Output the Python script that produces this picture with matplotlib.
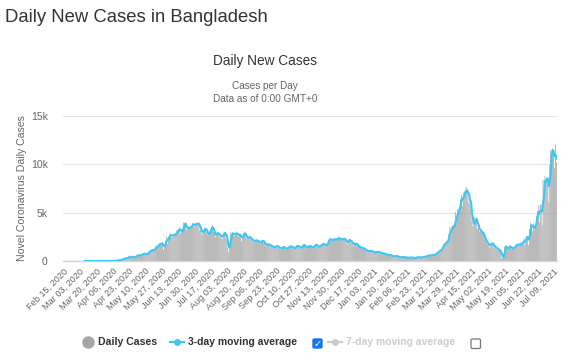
import numpy as np
import pandas as pd
import matplotlib
matplotlib.use("Agg")
import matplotlib.pyplot as plt
from matplotlib.patches import FancyBboxPatch
from matplotlib.lines import Line2D

# daily new cases, one list per month, starting Feb 15, 2020
start_date = "2020-02-15"
feb_2020 = [0, 0, 0, 0, 0, 0, 0, 0, 0, 0, 0, 0, 0, 0, 0]
mar_2020 = [0, 0, 0, 0, 0, 0, 0, 0, 3, 0, 0, 0, 0, 2, 0, 3, 2, 4, 3, 3, 4, 6, 6, 6, 0, 5, 4, 0, 0, 2, 1]
apr_2020 = [0, 1, 2, 3, 2, 5, 9, 18, 35, 41, 54, 112, 94, 58, 139, 182, 209, 219, 341, 266,
            306, 312, 492, 434, 390, 414, 503, 309, 418, 497]
may_2020 = [549, 641, 564, 571, 552, 665, 688, 786, 790, 706, 709, 636, 887, 1034, 969, 1162,
            1041, 1202, 930, 1273, 1602, 1251, 1617, 1773, 1694, 1873, 1532, 1975, 1166, 1541, 2029]
jun_2020 = [2523, 1764, 2545, 2381, 2911, 2695, 2423, 2828, 2635, 2743, 2735, 3171, 3190, 3187,
            3471, 2856, 3141, 3099, 4008, 3862, 3803, 3243, 3240, 3531, 3480, 3412, 3462, 3946, 3868, 3504]
jul_2020 = [3809, 4014, 3682, 3775, 4019, 3114, 3288, 2738, 3201, 3027, 3489, 3360, 2949, 2686,
            2666, 3099, 3163, 3533, 3733, 3034, 2709, 2459, 2928, 3057, 2744, 2520, 2856, 2548, 2275, 2960, 2772]
aug_2020 = [2960, 2695, 2199, 1356, 887, 1918, 2977, 2654, 2959, 2851, 2611, 2907, 2996, 2617,
            2487, 2868, 2766, 2024, 2595, 2747, 2974, 2868, 2401, 2265, 2485, 2519, 2467, 2211, 2131, 2247, 1950]
sep_2020 = [2158, 2045, 2211, 1950, 2097, 1864, 1792, 2202, 2161, 1892, 1950, 1545, 1724, 1615,
            1812, 1666, 1593, 1544, 1557, 1341, 1488, 1407, 1557, 1666, 1340, 1436, 1383, 1182, 1384, 1488]
oct_2020 = [1400, 1436, 1193, 1125, 1442, 1349, 1567, 1488, 1526, 1494, 1314, 1202, 1428, 1576,
            1604, 1458, 1557, 1366, 1264, 1506, 1681, 1696, 1586, 1308, 1273, 1604, 1493, 1541, 1606, 1355, 1246]
nov_2020 = [1568, 1636, 1517, 1844, 1492, 1473, 1443, 1540, 1684, 1788, 1690, 1845, 1531, 1471,
            1837, 1847, 2212, 2364, 2173, 2139, 2275, 2060, 2419, 2154, 2246, 2212, 2525, 2293, 2198, 2177]
dec_2020 = [2293, 2364, 2198, 2316, 1923, 1720, 2252, 2156, 2202, 1895, 2011, 1728, 1560, 1924,
            1847, 1655, 1608, 1450, 1311, 1529, 1280, 1380, 1288, 1205, 1160, 1165, 892, 1026, 1128, 1006, 1014]
jan_2021 = [978, 1007, 815, 910, 835, 1007, 1014, 789, 922, 890, 681, 798, 873, 700, 631, 752,
            569, 602, 618, 646, 545, 473, 526, 442, 565, 530, 504, 410, 421, 360, 413]
feb_2021 = [404, 388, 429, 350, 389, 344, 353, 292, 375, 396, 366, 335, 303, 291, 380, 348, 418,
            392, 356, 387, 325, 463, 435, 407, 461, 518, 469, 582]
mar_2021 = [606, 543, 585, 654, 635, 597, 685, 710, 845, 878, 1018, 1014, 1186, 1159, 1274, 1669,
            1779, 1865, 1773, 2187, 1899, 2809, 3554, 2679, 3567, 3587, 3674, 3527, 5042, 4014, 5358]
apr_2021 = [5181, 5319, 6469, 6830, 5683, 7087, 7213, 6854, 7626, 7462, 6028, 7201, 5819, 5343,
            4192, 3629, 3698, 4559, 4280, 4271, 3306, 3629, 3057, 3014, 3031, 2955, 2697, 2341, 2177, 1914]
may_2021 = [1742, 1919, 1359, 1768, 1914, 1742, 1822, 1285, 1514, 1434, 1190, 1230, 1080, 1103,
            929, 263, 363, 549, 1511, 1620, 1330, 1230, 1322, 1675, 1442, 1230, 1292, 1275, 1497, 1500, 1676]
jun_2021 = [1765, 1710, 1687, 1447, 1988, 1676, 1970, 2322, 1637, 2454, 2576, 2436, 1637, 3319,
            3956, 3840, 3057, 3883, 3240, 3641, 4636, 4846, 5727, 4000, 5869, 5825, 3697, 8364, 7666, 8822]
jul_2021 = [8301, 8483, 8661, 6058, 9964, 11525, 11162, 11651, 11324, 9600, 12000, 10200]

tick_labels = ["Feb 15, 2020", "Mar 03, 2020", "Mar 20, 2020", "Apr 06, 2020", "Apr 23, 2020",
               "May 10, 2020", "May 27, 2020", "Jun 13, 2020", "Jun 30, 2020", "Jul 17, 2020",
               "Aug 03, 2020", "Aug 20, 2020", "Sep 06, 2020", "Sep 23, 2020", "Oct 10, 2020",
               "Oct 27, 2020", "Nov 13, 2020", "Nov 30, 2020", "Dec 17, 2020", "Jan 03, 2021",
               "Jan 20, 2021", "Feb 06, 2021", "Feb 23, 2021", "Mar 12, 2021", "Mar 29, 2021",
               "Apr 15, 2021", "May 02, 2021", "May 19, 2021", "Jun 05, 2021", "Jun 22, 2021",
               "Jul 09, 2021"]
y_ticks = [0, 5000, 10000, 15000]
y_tick_labels = ["0", "5k", "10k", "15k"]
first_case = "2020-03-08"

cases = (feb_2020 + mar_2020 + apr_2020 + may_2020 + jun_2020 + jul_2020 + aug_2020 + sep_2020
         + oct_2020 + nov_2020 + dec_2020 + jan_2021 + feb_2021 + mar_2021 + apr_2021 + may_2021
         + jun_2021 + jul_2021)
dates = pd.date_range(start_date, periods=len(cases), freq="D")
df = pd.DataFrame({"cases": cases}, index=dates)
df["ma3"] = df["cases"].rolling(3, min_periods=1).mean()
df.loc[df.index < first_case, "ma3"] = np.nan

W, H = 562, 360
plt.rcParams["font.family"] = ["Liberation Sans", "DejaVu Sans"]


def fx(x):
    return x / W


def fy(y):
    return 1 - y / H


fig = plt.figure(figsize=(W / 100, H / 100), dpi=100)
fig.patch.set_facecolor("white")
ax = fig.add_axes([fx(63), fy(261), (557 - 63) / W, (261 - 116) / H])

x = np.arange(len(df))
ax.bar(x, df["cases"], width=0.72, color="#9c9c9c", linewidth=0, zorder=2, snap=False)
ax.plot(x, df["ma3"], color="#3cc8f5", linewidth=1.5, zorder=3)

ax.set_xlim(-0.5, len(df) - 0.5)
ax.set_ylim(0, 15000)
ax.set_yticks(y_ticks)
ax.set_yticklabels(y_tick_labels)
ax.grid(axis="y", color="#e6e6e6", linewidth=0.8, zorder=0)
ax.set_axisbelow(True)

tick_pos = dates.get_indexer(pd.to_datetime(tick_labels, format="%b %d, %Y"))
ax.set_xticks(tick_pos)
ax.set_xticklabels(tick_labels, rotation=45, ha="right", va="top", rotation_mode="anchor")

for s in ["top", "right", "left"]:
    ax.spines[s].set_visible(False)
ax.spines["bottom"].set_color("#ccd6eb")
ax.spines["bottom"].set_linewidth(1)
ax.tick_params(axis="x", length=0, pad=4, labelsize=6.6, labelcolor="#666666")
ax.tick_params(axis="y", length=0, pad=11, labelsize=7.5, labelcolor="#666666")
ax.set_ylabel("Novel Coronavirus Daily Cases", fontsize=7.6, color="#666666", labelpad=3)

# titles
fig.text(fx(5), fy(18), "Daily New Cases in Bangladesh", fontsize=13.3, color="#333333",
         va="center", ha="left")
fig.text(fx(265), fy(61), "Daily New Cases", fontsize=9.8, color="#333333", va="center", ha="center")
fig.text(fx(265), fy(86), "Cases per Day", fontsize=7.2, color="#666666", va="center", ha="center")
fig.text(fx(265), fy(99), "Data as of 0:00 GMT+0", fontsize=7.2, color="#666666", va="center", ha="center")

# legend
ly = fy(342)
fig.add_artist(Line2D([fx(88)], [ly], color="#a6a6a6", marker="o", markersize=8, linestyle="none",
                      transform=fig.transFigure))
fig.text(fx(98), ly, "Daily Cases", fontsize=7.6, fontweight="bold", color="#333333", va="center")
fig.add_artist(Line2D([fx(170), fx(184)], [ly, ly], color="#3cc8f5", linewidth=1.5,
                      transform=fig.transFigure))
fig.add_artist(Line2D([fx(177)], [ly], color="#3cc8f5", marker="o", markersize=4,
                      transform=fig.transFigure))
fig.text(fx(188), ly, "3-day moving average", fontsize=7.5, fontweight="bold", color="#333333",
         va="center")
fig.patches.append(FancyBboxPatch((fx(313), fy(348)), 9 / W, 9 / H,
                                  boxstyle="round,pad=0,rounding_size=0.003",
                                  transform=fig.transFigure, facecolor="#1a73e8", edgecolor="#1a73e8"))
fig.text(fx(317.5), fy(343.5), "\u2713", fontsize=7, fontweight="bold", color="white",
         ha="center", va="center", family="DejaVu Sans")
fig.add_artist(Line2D([fx(328), fx(342)], [ly, ly], color="#cccccc", linewidth=1.5,
                      transform=fig.transFigure))
fig.add_artist(Line2D([fx(335)], [ly], color="#cccccc", marker="o", markersize=4,
                      transform=fig.transFigure))
fig.text(fx(346), ly, "7-day moving average", fontsize=7.5, fontweight="bold", color="#cccccc",
         va="center")
fig.patches.append(FancyBboxPatch((fx(471), fy(348.5)), 9.5 / W, 9.5 / H,
                                  boxstyle="round,pad=0,rounding_size=0.003",
                                  transform=fig.transFigure, facecolor="white", edgecolor="#767676",
                                  linewidth=0.9))

fig.savefig("out.png", dpi=100, facecolor="white")
